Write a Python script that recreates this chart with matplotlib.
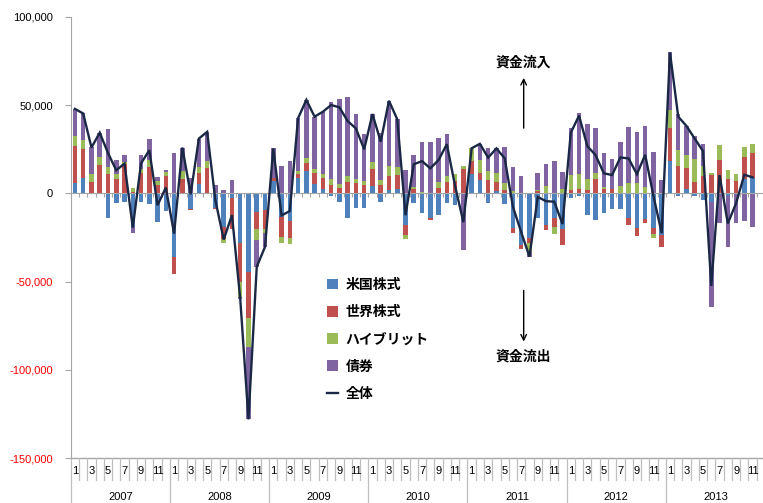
import numpy as np
import matplotlib
matplotlib.use('Agg')
import matplotlib.pyplot as plt
from matplotlib.patches import Patch
from matplotlib.lines import Line2D

plt.rcParams['font.family'] = ['Liberation Sans', 'Noto Sans CJK JP', 'DejaVu Sans']

years = ['2007', '2008', '2009', '2010', '2011', '2012', '2013']
month_labels = ['1', '', '3', '', '5', '', '7', '', '9', '', '11', '']
series_names = ['米国株式', '世界株式', 'ハイブリット', '債券']
total_name = '全体'

us_equity = [5700, 8500, -500, 0, -13800, -5700, -5100, -18900, -4700, -6200, -16100, -9800,
             -36000, 0, -9000, 5100, 0, -8000, -19000, -2500, -28400, -44400, -10400, -9500,
             7200, -13500, -15700, 8500, 12900, 5300, 2500, -1500, -4700, -13800, -8100, -8500,
             4200, -4700, 1900, 2300, -18000, -5300, -11000, -14200, -12300, -5700, -6600, 0,
             10800, 7600, -5300, 1300, -6200, -19800, -29300, -25500, -13800, -18000, -14200, -20400,
             -2800, -1300, -12300, -15100, -11300, -9100, -8900, -14200, -19500, -14600, -19500, -23600,
             18300, -1300, 2300, -1300, -3800, -4700, 0, -1300, -500, 7900, 8500]

world_equity = [21400, 16600, 6600, 16100, 11000, 8100, 16500, 1000, 11300, 15100, 4700, 9800,
                -9500, 8000, -500, 6600, 14500, -1000, -6600, -17400, -21700, -26500, -9500, -10400,
                1300, -11000, -9500, 2300, 4200, 6400, 6000, 4700, 2800, 6200, 5700, 4700,
                9500, 4700, 8100, 8100, -5700, 2300, 0, -900, 3200, 6600, 7000, 13600,
                7800, 3800, 7600, 4900, 1900, -2500, -2500, -2500, 1300, -2800, -4700, -8900,
                1900, 2500, 1900, 8100, 2300, 2500, 0, -3800, -4500, -1900, -3600, -6600,
                18900, 15500, 12300, 6400, 9800, 10400, 18900, 8100, 7000, 12900, 14200]

hybrid = [5700, 5100, 4200, 4700, 4200, 2800, 1300, 1900, 2500, 3800, 2300, 2500,
          -300, 4700, 0, 3400, 3800, 0, -2500, 0, -8500, -16000, -6600, -2800,
          0, -3500, -3400, 2100, 3200, 2100, 2300, 3400, 2300, 3800, 2300, 2300,
          4000, 2800, 5500, 4700, -1900, 1500, 900, 0, 3400, 3400, 3800, 2100,
          7000, 7600, 5300, 5500, 4200, 1300, 0, -5100, 900, 4300, -4300, 2300,
          8500, 8300, 6000, 3600, 1500, 0, 4200, 6000, 6000, 3800, -1900, 0,
          10000, 9100, 7200, 12900, 5900, 1300, 8500, 5100, 4000, 5300, 5300]

bonds = [15100, 15100, 15700, 13600, 21500, 7900, 4200, -3400, 7900, 11800, 2400, 800,
         23000, 13300, 9000, 16000, 16600, 5000, 1900, 7600, -1000, -41200, -15100, -7600,
         17000, 15500, 18600, 29700, 32700, 29700, 35500, 43500, 48400, 44800, 36900, 26500,
         27300, 26500, 37000, 26900, 13200, 18000, 28400, 29300, 24600, 23600, 0, -32000,
         0, 9100, 12700, 13800, 20000, 13400, 9800, -2800, 9600, 12100, 18500, 9600,
         26800, 34600, 31200, 25100, 18900, 17000, 25100, 31800, 28900, 34600, 23600, 7600,
         32700, 20200, 16400, 13000, 12100, -59500, -17000, -28900, -16100, -15500, -18900]

colors = ['#4F81BD', '#C0504D', '#9BBB59', '#8064A2']
line_color = '#1A2845'
grey = '#A6A6A6'

series = [np.array(s, dtype=float) for s in (us_equity, world_equity, hybrid, bonds)]
n = len(us_equity)
total = np.sum(series, axis=0)
x = np.arange(n)

W, H = 763, 503
fig = plt.figure(figsize=(W / 100, H / 100), dpi=100)
left_px, right_px, top_px, bot_px = 70.8, 765.0, 17.0, 458.0
ax = fig.add_axes([left_px / W, 1 - bot_px / H, (right_px - left_px) / W, (bot_px - top_px) / H])
ax_h = bot_px - top_px

pos = np.zeros(n)
neg = np.zeros(n)
for vals, c in zip(series, colors):
    bottom = np.where(vals >= 0, pos, neg)
    ax.bar(x, vals, bottom=bottom, width=0.55, color=c, edgecolor='none', zorder=2)
    pos = pos + np.where(vals >= 0, vals, 0)
    neg = neg + np.where(vals < 0, vals, 0)

ax.plot(x, total, color=line_color, lw=1.7, zorder=3, solid_joinstyle='miter')

ax.set_xlim(-0.5, 83.5)
ax.set_ylim(-150000, 100000)

yt = np.arange(-150000, 100001, 50000)
ax.set_yticks(yt, [f'{v:,}' for v in yt])
for lab, v in zip(ax.get_yticklabels(), yt):
    lab.set_color('#FF0000' if v < 0 else 'black')
ax.tick_params(axis='y', direction='out', length=4, color=grey, labelsize=8, pad=9)

ax.spines['top'].set_visible(False)
ax.spines['right'].set_visible(False)
ax.spines['left'].set_color(grey)
ax.spines['bottom'].set_color(grey)
ax.spines['bottom'].set_position(('data', 0))
ax.set_xticks(np.arange(-0.5, 84, 1))
ax.set_xticklabels([])
ax.tick_params(axis='x', direction='out', length=3, color=grey)
ax.axhline(-150000, color=grey, lw=1, clip_on=False, zorder=1)

xt = ax.get_xaxis_transform()
for b in np.arange(-0.5, 84, 1):
    is_year = abs(((b + 0.5) % 12)) < 1e-9
    depth = 46 if is_year else 22
    ax.plot([b, b], [0, -depth / ax_h], transform=xt, color='#BFBFBF', lw=0.9, clip_on=False)
for i in range(84):
    lab = month_labels[i % 12]
    if lab:
        ax.text(i, -13 / ax_h, lab, transform=xt, ha='center', va='center', fontsize=8)
for k, yr in enumerate(years):
    ax.text(12 * k + 5.5, -38.5 / ax_h, yr, transform=xt, ha='center', va='center', fontsize=8)

ax.annotate('', xy=(54.3, 65500), xytext=(54.3, 37000),
            arrowprops=dict(arrowstyle='->', color='black', lw=1, shrinkA=0, shrinkB=0))
ax.text(54.3, 74000, '資金流入', ha='center', va='center', fontsize=10, fontweight='bold')
ax.annotate('', xy=(54.3, -84000), xytext=(54.3, -55000),
            arrowprops=dict(arrowstyle='->', color='black', lw=1, shrinkA=0, shrinkB=0))
ax.text(54.3, -92700, '資金流出', ha='center', va='center', fontsize=10, fontweight='bold')

handles = [Patch(facecolor=c, edgecolor='none') for c in colors]
handles.append(Line2D([0], [0], color=line_color, lw=1.7))
leg = ax.legend(handles, series_names + [total_name], loc='upper left',
                bbox_to_anchor=(320 / W, 1 - 271 / H), bbox_transform=fig.transFigure,
                frameon=False, fontsize=10, labelspacing=0.95, handlelength=0.8,
                handleheight=0.8, handletextpad=0.55, borderpad=0)
for t in leg.get_texts():
    t.set_fontweight('bold')

fig.savefig('out.png', dpi=100)
